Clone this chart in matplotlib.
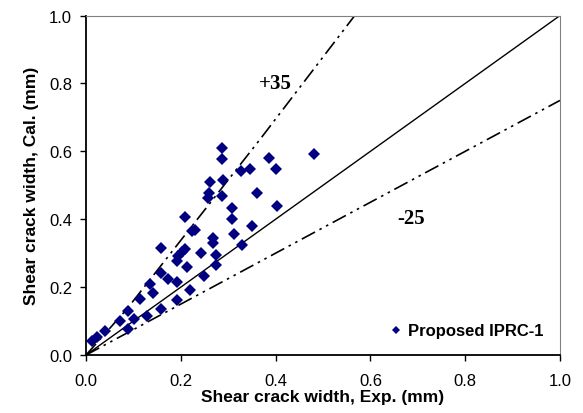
import matplotlib
matplotlib.use('Agg')
import matplotlib.pyplot as plt

# measured vs calculated shear crack width (mm)
exp_w = [0.012, 0.023, 0.040, 0.072, 0.089, 0.088, 0.101, 0.114, 0.128, 0.134,
         0.142, 0.158, 0.158, 0.158, 0.172, 0.191, 0.191, 0.193, 0.195, 0.202,
         0.209, 0.209, 0.214, 0.219, 0.223, 0.230, 0.242, 0.249, 0.258, 0.260,
         0.262, 0.269, 0.269, 0.274, 0.274, 0.286, 0.288, 0.290, 0.288, 0.309,
         0.309, 0.312, 0.328, 0.330, 0.347, 0.350, 0.361, 0.387, 0.481, 0.400,
         0.404]
cal_w = [0.042, 0.052, 0.070, 0.101, 0.130, 0.078, 0.106, 0.165, 0.116, 0.209,
         0.184, 0.314, 0.241, 0.135, 0.224, 0.214, 0.163, 0.277, 0.292, 0.304,
         0.312, 0.407, 0.258, 0.191, 0.366, 0.369, 0.300, 0.233, 0.464, 0.478,
         0.510, 0.346, 0.329, 0.294, 0.265, 0.611, 0.578, 0.515, 0.469, 0.432,
         0.402, 0.356, 0.542, 0.324, 0.549, 0.379, 0.478, 0.579, 0.591, 0.547,
         0.439]

# reference lines
eq_x = [0.0, 1.0]
eq_y = [0.0, 1.0]
up_x = [0.0, 0.086, 0.367, 0.567]
up_y = [0.0, 0.135, 0.635, 1.0]
lo_x = [0.0, 1.0]
lo_y = [0.0, 0.75]

fig = plt.figure(figsize=(5.83, 4.14), dpi=100)
ax = fig.add_axes([0.1475, 0.140, 0.813, 0.820])

ax.plot(eq_x, eq_y, color='black', lw=1.0)
dd = (9, 3, 1.5, 3, 1.5, 3)
ax.plot(up_x, up_y, color='black', lw=1.2, dashes=dd)
ax.plot(lo_x, lo_y, color='black', lw=1.2, dashes=dd)

ax.plot(exp_w, cal_w, 'D', color='#000080', markersize=6, markeredgewidth=0,
        linestyle='none', label='Proposed IPRC-1', clip_on=False, zorder=3)

ax.text(0.40, 0.80, '+35', fontsize=15, fontweight='bold', family='Liberation Serif',
        ha='center', va='center')
ax.text(0.685, 0.405, '-25', fontsize=15, fontweight='bold', family='Liberation Serif',
        ha='center', va='center')

ax.set_xlim(0, 1.0)
ax.set_ylim(0, 1.0)
ax.set_xticks([0, 0.2, 0.4, 0.6, 0.8, 1.0])
ax.set_yticks([0, 0.2, 0.4, 0.6, 0.8, 1.0])
ax.xaxis.set_major_formatter(matplotlib.ticker.FormatStrFormatter('%.1f'))
ax.yaxis.set_major_formatter(matplotlib.ticker.FormatStrFormatter('%.1f'))
ax.tick_params(direction='out', length=4, width=1, labelsize=12, pad=6)
ax.tick_params(axis='x', pad=9)
for lab in ax.get_xticklabels() + ax.get_yticklabels():
    lab.set_family('Liberation Sans')

ax.spines['left'].set_linewidth(1.3)
ax.spines['bottom'].set_linewidth(1.3)
ax.spines['top'].set_color('#808080')
ax.spines['right'].set_color('#808080')

ax.set_xlabel('Shear crack width, Exp. (mm)', fontsize=12.5, fontweight='bold',
              family='Liberation Sans', labelpad=1)
ax.set_ylabel('Shear crack width, Cal. (mm)', fontsize=12.5, fontweight='bold',
              family='Liberation Sans', labelpad=7)

leg = ax.legend(loc='lower right', frameon=False, handletextpad=0.2,
                handlelength=1.0, markerscale=0.75, borderaxespad=0.6,
                prop={'family': 'Liberation Sans', 'weight': 'bold', 'size': 12})

fig.savefig('out.png', dpi=100)
